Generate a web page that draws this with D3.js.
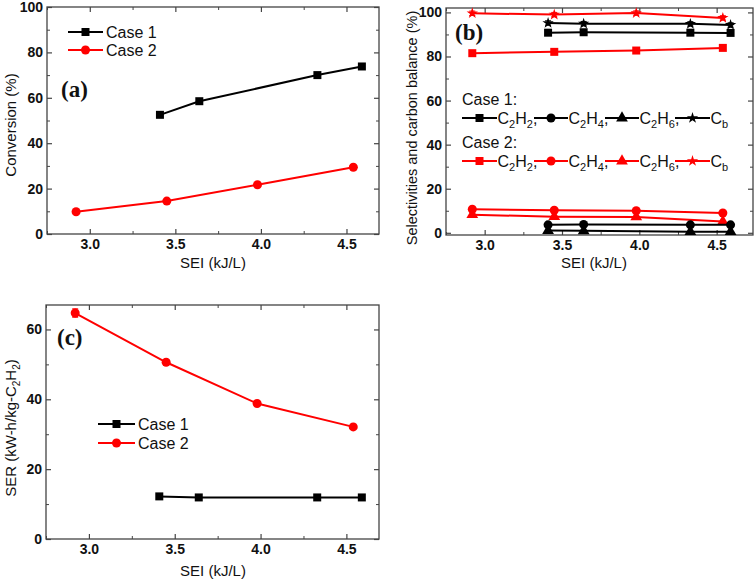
<!DOCTYPE html>
<html>
<head>
<meta charset="utf-8">
<script src="https://cdn.jsdelivr.net/npm/d3@7"></script>
<style>
  body { margin: 0; background: white; }
  svg { display: block; }
</style>
</head>
<body>
<div id="chart"></div>
<script>
// ============================================
// data
// ============================================
const sei1 = [3.41, 3.64, 4.33, 4.59];   // Case 1 SEI (kJ/L)
const sei2 = [2.92, 3.45, 3.98, 4.54];   // Case 2 SEI (kJ/L)

// (a) conversion (%)
const conv1 = [52.5, 58.5, 70.0, 73.8];
const conv2 = [9.8, 14.5, 21.7, 29.4];

// (b) selectivities and carbon balance (%)
const c2h2Case1 = [90.8, 91.0, 90.8, 90.7];
const c2h4Case1 = [3.6, 3.8, 3.6, 3.6];
const c2h6Case1 = [1.0, 0.9, 0.5, 0.5];
const cbCase1 = [95.2, 94.9, 94.8, 94.3];
const c2h2Case2 = [81.5, 82.1, 82.7, 83.9];
const c2h4Case2 = [10.7, 10.2, 10.0, 9.0];
const c2h6Case2 = [8.2, 7.3, 7.2, 5.1];
const cbCase2 = [99.6, 99.0, 99.7, 97.5];
const cbErr1 = [1.0, 1.0, 1.0, 1.0];
const cbErr2 = [1.0, 1.0, 1.0, 1.0];

// (c) SER (kW-h/kg-C2H2)
const ser1 = [12.2, 11.9, 11.9, 11.9];
const ser2 = [64.7, 50.6, 38.8, 32.1];
const serErr2 = [1.2, 0.8, 0.5, 0.5];

// ticks
const xTicks = [3.0, 3.5, 4.0, 4.5];
const xMinor = [2.75, 3.25, 3.75, 4.25];
const yTicksAB = [0, 20, 40, 60, 80, 100];
const yMinorAB = [10, 30, 50, 70, 90];
const yTicksC = [0, 20, 40, 60];
const yMinorC = [10, 30, 50];

const BLACK = '#000000';
const RED = '#ff0000';
const FONT = 'Arial, "Liberation Sans", sans-serif';

const svg = d3.select('#chart')
    .append('svg')
    .attr('width', 756)
    .attr('height', 581)
    .style('background', 'white');

// ============================================
// helpers
// ============================================
function makePanel(box, xDomain, yDomain, yTicks, yMinor) {
    const x = d3.scaleLinear().domain(xDomain).range([box.left, box.right]);
    const y = d3.scaleLinear().domain(yDomain).range([box.bottom, box.top]);
    const g = svg.append('g');

    // 4 sides, ticks pointing inward
    const sides = [
        { axis: d3.axisBottom(x), t: `translate(0,${box.bottom})`, vals: xTicks, minor: xMinor, fmt: d3.format('.1f'), pad: 5 },
        { axis: d3.axisTop(x), t: `translate(0,${box.top})`, vals: xTicks, minor: xMinor, fmt: null },
        { axis: d3.axisLeft(y), t: `translate(${box.left},0)`, vals: yTicks, minor: yMinor, fmt: d3.format('d'), pad: 4 },
        { axis: d3.axisRight(y), t: `translate(${box.right},0)`, vals: yTicks, minor: yMinor, fmt: null }
    ];
    sides.forEach(s => {
        const major = g.append('g')
            .attr('transform', s.t)
            .call(s.axis.tickValues(s.vals).tickSize(-5).tickPadding(s.pad || 4)
                .tickFormat(s.fmt || ''));
        major.select('.domain').remove();
        major.selectAll('line').attr('stroke', '#444').attr('stroke-width', 1.2);
        major.selectAll('text')
            .attr('font-family', FONT)
            .attr('font-weight', 'bold')
            .attr('font-size', 14)
            .attr('fill', '#111');
        if (!s.fmt) major.selectAll('text').remove();
        const minorG = g.append('g')
            .attr('transform', s.t)
            .call(s.axis.tickValues(s.minor).tickSize(-3).tickFormat(''));
        minorG.select('.domain').remove();
        minorG.selectAll('text').remove();
        minorG.selectAll('line').attr('stroke', '#444').attr('stroke-width', 1);
    });

    // frame
    g.append('rect')
        .attr('x', box.left).attr('y', box.top)
        .attr('width', box.right - box.left)
        .attr('height', box.bottom - box.top)
        .attr('fill', 'none')
        .attr('stroke', '#444')
        .attr('stroke-width', 1.3);

    return { g, x, y };
}

function symbolPath(type, size) {
    const t = { square: d3.symbolSquare, circle: d3.symbolCircle, triangle: d3.symbolTriangle, star: d3.symbolStar }[type];
    return d3.symbol().type(t).size(size)();
}
const SYM_SIZE = { square: 64, circle: 64, triangle: 60, star: 40 };

function drawSeries(p, xs, ys, color, shape, errs) {
    const pts = xs.map((v, i) => ({ x: v, y: ys[i], e: errs ? errs[i] : 0 }));
    p.g.append('path')
        .datum(pts)
        .attr('fill', 'none')
        .attr('stroke', color)
        .attr('stroke-width', 2)
        .attr('d', d3.line().x(d => p.x(d.x)).y(d => p.y(d.y)));
    if (errs) {
        p.g.selectAll(null)
            .data(pts)
            .enter()
            .append('path')
            .attr('fill', 'none')
            .attr('stroke', color)
            .attr('stroke-width', 1)
            .attr('d', d => {
                const cx = p.x(d.x), y1 = p.y(d.y - d.e), y2 = p.y(d.y + d.e);
                return `M${cx},${y1}V${y2}M${cx - 3},${y1}H${cx + 3}M${cx - 3},${y2}H${cx + 3}`;
            });
    }
    p.g.selectAll(null)
        .data(pts)
        .enter()
        .append('path')
        .attr('transform', d => `translate(${p.x(d.x)},${p.y(d.y)})`)
        .attr('d', symbolPath(shape, SYM_SIZE[shape]))
        .attr('fill', color);
}

function legendItem(x0, x1, yy, color, shape) {
    svg.append('line')
        .attr('x1', x0).attr('x2', x1)
        .attr('y1', yy).attr('y2', yy)
        .attr('stroke', color).attr('stroke-width', 2);
    svg.append('path')
        .attr('transform', `translate(${(x0 + x1) / 2},${yy})`)
        .attr('d', symbolPath(shape, SYM_SIZE[shape]))
        .attr('fill', color);
}

function plainText(x, y, str, size, anchor, rotate) {
    const t = svg.append('text')
        .attr('x', x).attr('y', y)
        .attr('text-anchor', anchor || 'start')
        .attr('font-family', FONT)
        .attr('font-size', size)
        .attr('fill', '#111')
        .text(str);
    if (rotate) t.attr('transform', `rotate(-90,${x},${y})`);
    return t;
}

function panelLabel(x, y, str) {
    svg.append('text')
        .attr('x', x).attr('y', y)
        .attr('font-family', '"Liberation Serif", "Times New Roman", serif')
        .attr('font-weight', 'bold')
        .attr('font-size', 23)
        .attr('fill', '#111')
        .text(str);
}

// chemical formula with subscripts: parts = [['C','2'],['H','2'],[',','']]
function formula(x, y, parts, size) {
    const t = svg.append('text')
        .attr('x', x).attr('y', y)
        .attr('font-family', FONT)
        .attr('font-size', size)
        .attr('fill', '#111');
    let shifted = false;
    parts.forEach(([main, sub]) => {
        const m = t.append('tspan').attr('font-size', size).text(main);
        if (shifted) { m.attr('dy', -4); shifted = false; }
        if (sub) {
            t.append('tspan').attr('dy', 4).attr('font-size', Math.round(size * 0.68)).text(sub);
            shifted = true;
        }
    });
    return t;
}

// ============================================
// (a) conversion
// ============================================
const pa = makePanel({ left: 47, right: 379, top: 7, bottom: 234 }, [2.75, 4.69], [0, 100], yTicksAB, yMinorAB);
drawSeries(pa, sei1, conv1, BLACK, 'square');
drawSeries(pa, sei2, conv2, RED, 'circle');
legendItem(68, 103, 32, BLACK, 'square');
legendItem(68, 103, 50, RED, 'circle');
plainText(106, 38, 'Case 1', 16);
plainText(106, 56, 'Case 2', 16);
panelLabel(61, 97, '(a)');
plainText(213, 268, 'SEI (kJ/L)', 15, 'middle');
plainText(16, 125, 'Conversion (%)', 15, 'middle', true);

// ============================================
// (b) selectivities
// ============================================
const pb = makePanel({ left: 446, right: 753, top: 8, bottom: 235 }, [2.75, 4.735], [-1, 102], yTicksAB, yMinorAB);
drawSeries(pb, sei2, c2h6Case2, RED, 'triangle');
drawSeries(pb, sei2, c2h4Case2, RED, 'circle');
drawSeries(pb, sei2, c2h2Case2, RED, 'square');
drawSeries(pb, sei2, cbCase2, RED, 'star', cbErr2);
drawSeries(pb, sei1, c2h6Case1, BLACK, 'triangle');
drawSeries(pb, sei1, c2h4Case1, BLACK, 'circle');
drawSeries(pb, sei1, c2h2Case1, BLACK, 'square');
drawSeries(pb, sei1, cbCase1, BLACK, 'star', cbErr1);
panelLabel(455, 40, '(b)');

plainText(462, 105, 'Case 1:', 16);
plainText(462, 148, 'Case 2:', 16);
const legendRows = [{ y: 118, color: BLACK }, { y: 161, color: RED }];
const legendCols = [
    { x0: 462, x1: 497, shape: 'square', parts: [['C', '2'], ['H', '2'], [',', '']] },
    { x0: 534, x1: 568, shape: 'circle', parts: [['C', '2'], ['H', '4'], [',', '']] },
    { x0: 605, x1: 639, shape: 'triangle', parts: [['C', '2'], ['H', '6'], [',', '']] },
    { x0: 675, x1: 710, shape: 'star', parts: [['C', 'b']] }
];
legendRows.forEach(r => {
    legendCols.forEach(c => {
        legendItem(c.x0, c.x1, r.y, r.color, c.shape);
        formula(c.x1 + 0.5, r.y + 6, c.parts, 16);
    });
});
plainText(594, 268, 'SEI (kJ/L)', 15, 'middle');
plainText(417, 128, 'Selectivities and carbon balance (%)', 14.5, 'middle', true);

// ============================================
// (c) SER
// ============================================
const pc = makePanel({ left: 46, right: 379, top: 305, bottom: 539 }, [2.75, 4.69], [0, 67], yTicksC, yMinorC);
drawSeries(pc, sei1, ser1, BLACK, 'square');
drawSeries(pc, sei2, ser2, RED, 'circle', serErr2);
legendItem(98, 135, 424, BLACK, 'square');
legendItem(98, 135, 443, RED, 'circle');
plainText(138, 430, 'Case 1', 16);
plainText(138, 449, 'Case 2', 16);
panelLabel(57, 345, '(c)');
plainText(213, 576, 'SEI (kJ/L)', 15, 'middle');

// y label with subscripts, rotated
const cy = 428, cx = 16;
formula(cx, cy, [['SER (kW-h/kg-C', '2'], ['H', '2'], [')', '']], 15)
    .attr('text-anchor', 'middle')
    .attr('transform', `rotate(-90,${cx},${cy})`);
</script>
</body>
</html>
